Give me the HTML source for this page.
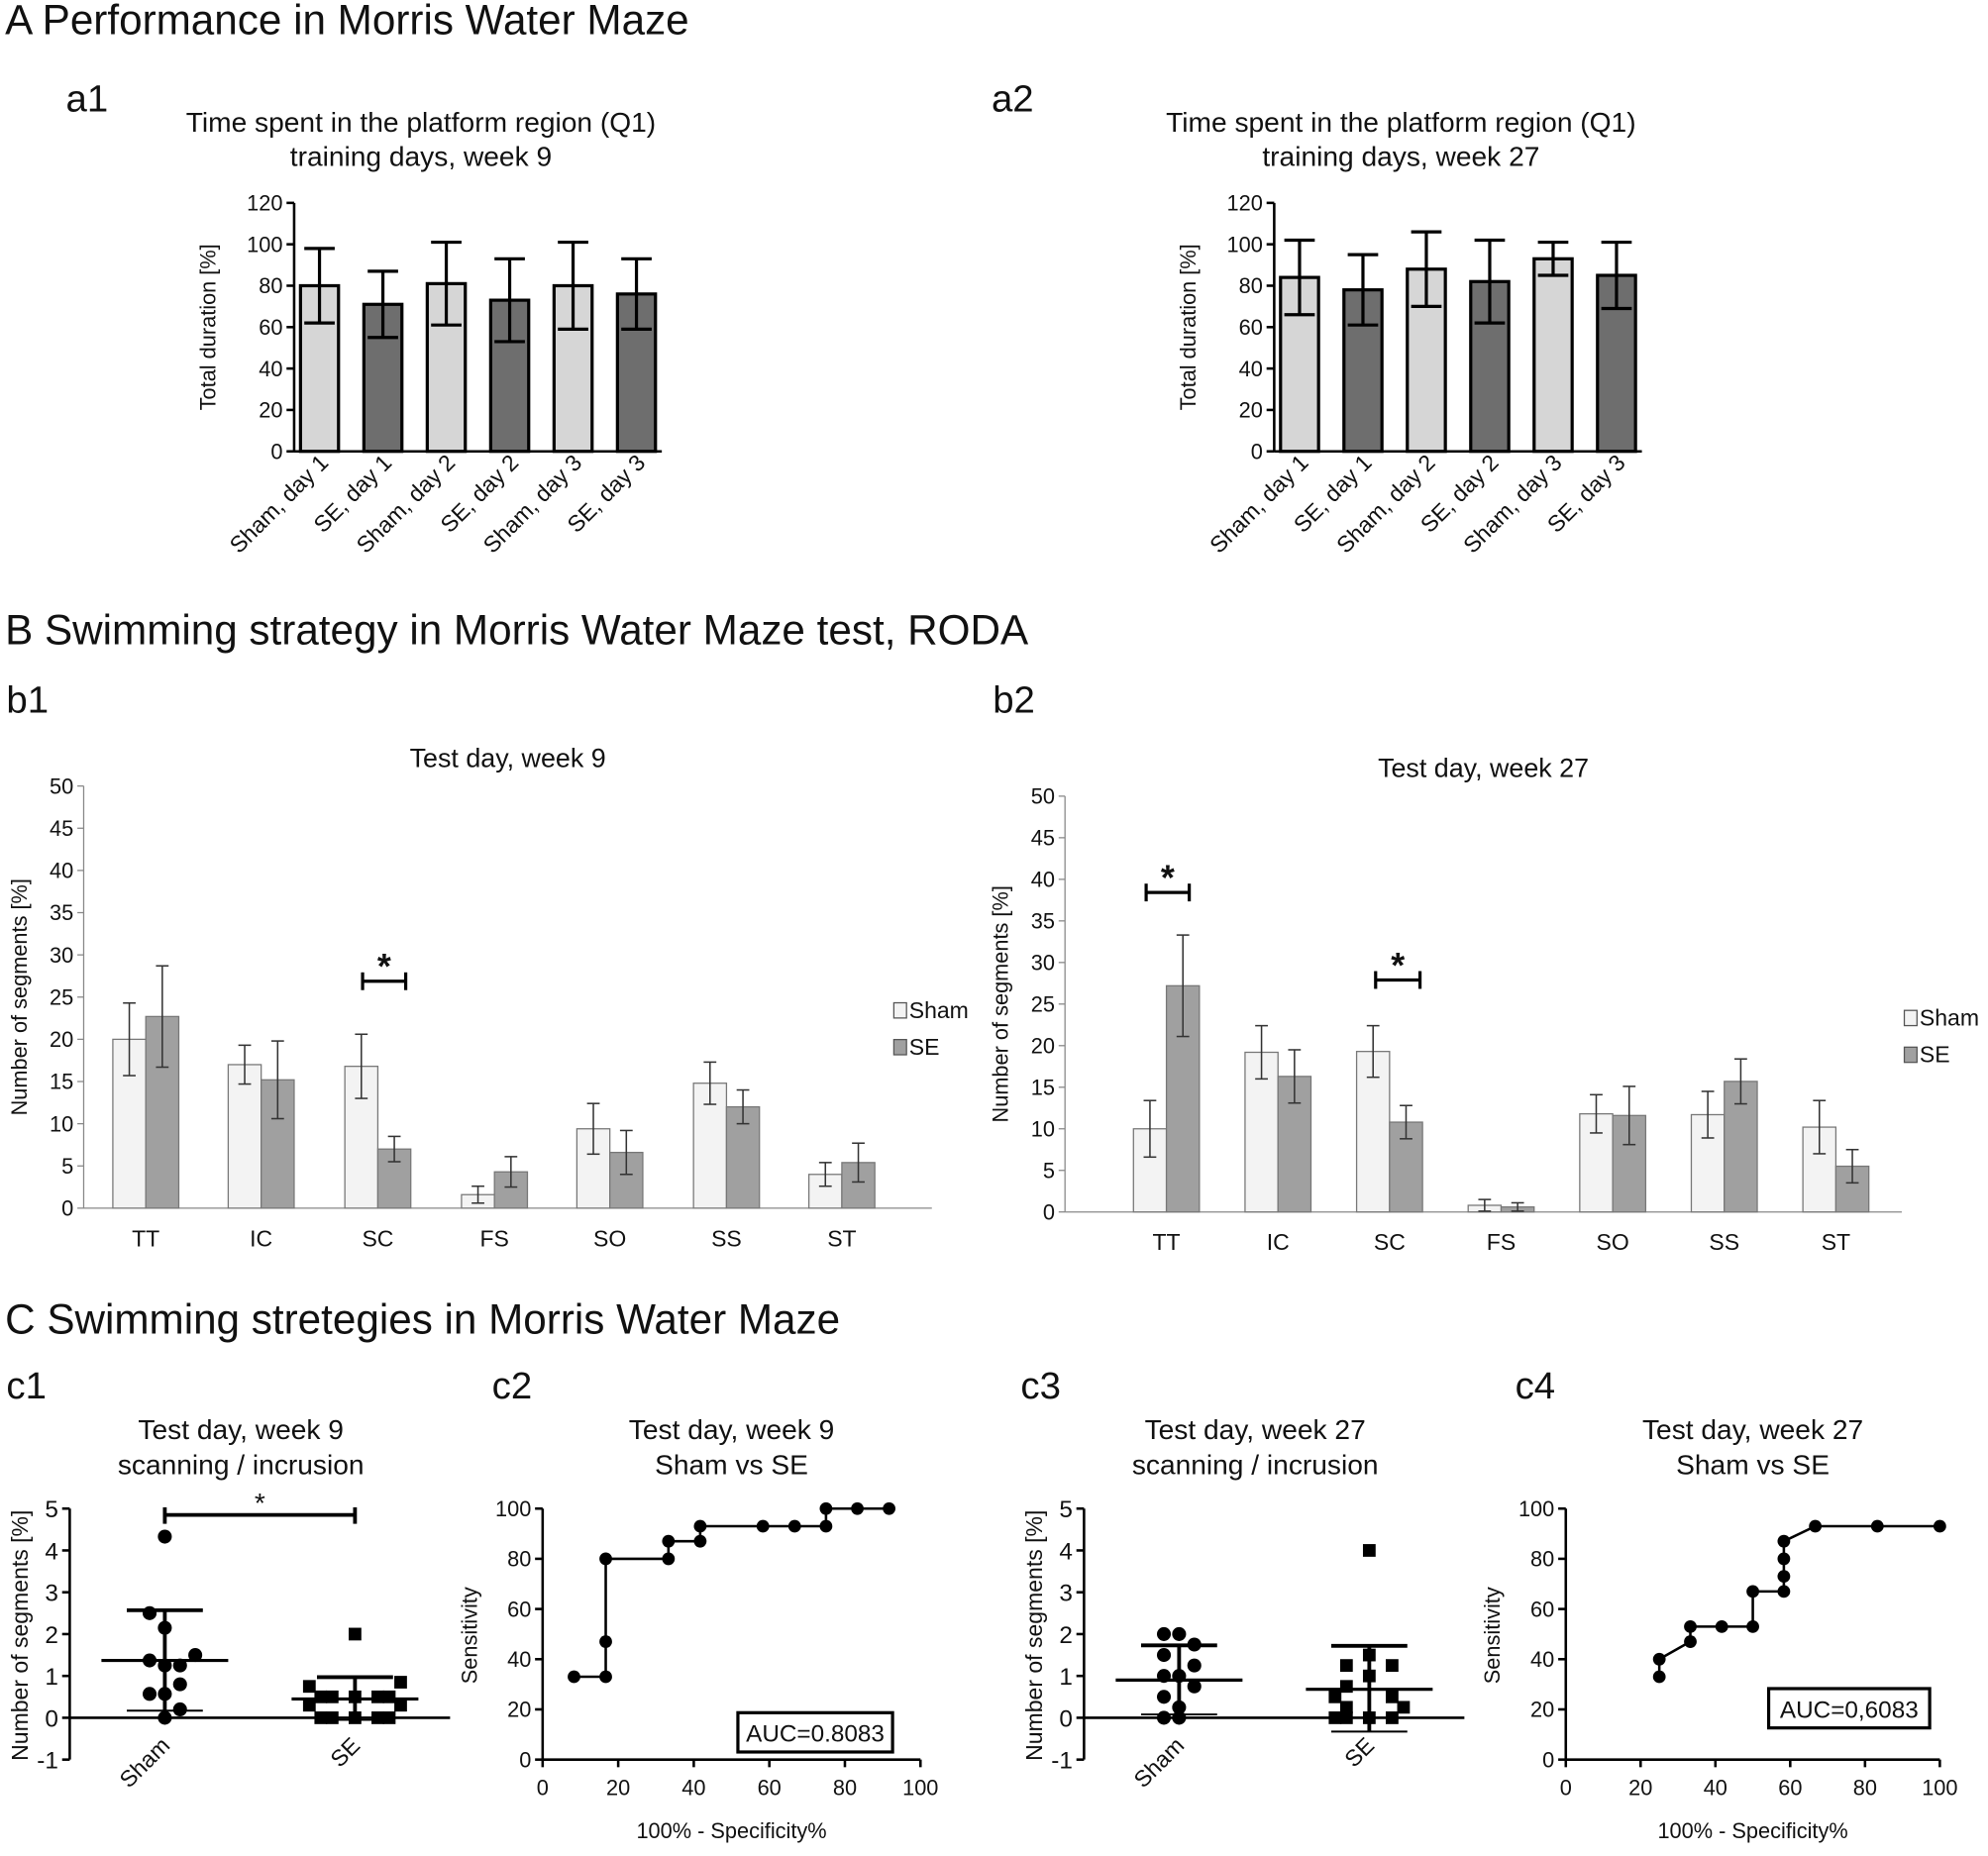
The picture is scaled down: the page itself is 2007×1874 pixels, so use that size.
<!DOCTYPE html>
<html><head><meta charset="utf-8">
<style>html,body{margin:0;padding:0;background:#fff}svg{display:block}
text{font-family:"Liberation Sans",Arial,sans-serif;fill:#111}</style></head>
<body>
<svg id="s" width="2007" height="1874" viewBox="0 0 1568 1464" xmlns="http://www.w3.org/2000/svg"></svg>
<script>
const S=document.getElementById('s');let h='';
function t(x,y,s,sz,a,rot,w){h+=`<text x="${x}" y="${y}" font-size="${sz}" text-anchor="${a||'start'}"${w?` font-weight="${w}"`:''}${rot!=null&&rot!==''?` transform="rotate(${rot} ${x} ${y})"`:''}>${s}</text>`;}
function l(x1,y1,x2,y2,w,c){h+=`<line x1="${x1}" y1="${y1}" x2="${x2}" y2="${y2}" stroke="${c||'#000'}" stroke-width="${w||1.5}"/>`;}
function r(x,y,w,hh,f,sw,sc){h+=`<rect x="${x}" y="${y}" width="${w}" height="${hh}" fill="${f}" stroke="${sc||'#000'}" stroke-width="${sw}"/>`;}
t(4,27,'A Performance in Morris Water Maze',33);
t(4,508,'B Swimming strategy in Morris Water Maze test, RODA',33);
t(4,1052,'C Swimming stretegies in Morris Water Maze',33);
function barA(ax,lx,title2,vals,lab){
  const y0=356,k=196/120;
  const Y=v=>y0-v*k;
  t(lx,88,lab,30);
  t(ax+100,104,'Time spent in the platform region (Q1)',22,'middle');
  t(ax+100,131,title2,22,'middle');
  l(ax,160,ax,y0,2);l(ax,y0,ax+290,y0,2);
  for(let v=0;v<=120;v+=20){l(ax-6,Y(v),ax,Y(v),2);t(ax-9,Y(v)+6,v,17,'end');}
  t(ax-62,258,'Total duration [%]',17,'middle',-90);
  const labs=['Sham, day 1','SE, day 1','Sham, day 2','SE, day 2','Sham, day 3','SE, day 3'];
  vals.forEach((d,i)=>{const x=ax+5+i*50;r(x,Y(d[0]),30,y0-Y(d[0]),i%2?'#6e6e6e':'#d6d6d6',2.5);
    const c=x+15;l(c,Y(d[0]+d[1]),c,Y(d[0]-d[1]),2.5);l(c-12,Y(d[0]+d[1]),c+12,Y(d[0]+d[1]),2.5);l(c-12,Y(d[0]-d[1]),c+12,Y(d[0]-d[1]),2.5);
    t(c+8,366,labs[i],18,'end',-45);});
}
barA(232,52,'training days, week 9',[[80,18],[71,16],[81,20],[73,20],[80,21],[76,17]],'a1');
barA(1005,782,'training days, week 27',[[84,18],[78,17],[88,18],[82,20],[93,8],[85,16]],'a2');
function barB(ax,lx,top,y0,x1,centers,vals,title,lab,leg,brs){
  const k=(y0-top)/50,Y=v=>y0-v*k;
  t(lx,562,lab,30);
  t((ax+x1)/2,top-15,title,21,'middle');
  l(ax,top,ax,y0,1,'#888');l(ax,y0,x1,y0,1,'#888');
  for(let v=0;v<=50;v+=5){l(ax-5,Y(v),ax,Y(v),1,'#888');t(ax-8,Y(v)+6,v,17,'end');}
  t(ax-45,(top+y0)/2,'Number of segments [%]',17,'middle',-90);
  const labs=['TT','IC','SC','FS','SO','SS','ST'];
  centers.forEach((c,i)=>{const d=vals[i];
    [[c-26,d[0],d[1],'#f3f3f3'],[c,d[2],d[3],'#a0a0a0']].forEach(b=>{r(b[0],Y(b[1]),26,y0-Y(b[1]),b[3],1,'#777');const m=b[0]+13;
      l(m,Y(b[1]+b[2]),m,Y(b[1]-b[2]),1.2,'#333');l(m-5,Y(b[1]+b[2]),m+5,Y(b[1]+b[2]),1.2,'#333');l(m-5,Y(b[1]-b[2]),m+5,Y(b[1]-b[2]),1.2,'#333');});
    t(c,y0+30,labs[i],18,'middle');});
  r(leg[0],leg[1]-12,10,12,'#f3f3f3',1,'#555');t(leg[0]+12,leg[1],'Sham',18);
  r(leg[0],leg[1]+17,10,12,'#a0a0a0',1,'#555');t(leg[0]+12,leg[1]+29,'SE',18);
  brs.forEach(b=>{l(b[0],b[2],b[1],b[2],2.5);l(b[0],b[2]-7,b[0],b[2]+7,2.5);l(b[1],b[2]-7,b[1],b[2]+7,2.5);t((b[0]+b[1])/2,b[2]-2,'*',28,'middle','','bold');});
}
barB(66,5,620,953,735,[115,206,298,390,481,573,664],[[20,4.3,22.7,6],[17,2.3,15.2,4.6],[16.8,3.8,7,1.5],[1.6,1,4.3,1.8],[9.4,3,6.6,2.6],[14.8,2.5,12,2],[4,1.4,5.4,2.3]],'Test day, week 9','b1',[705,803],[[286,320,774]]);
barB(840,783,628,956,1500,[920,1008,1096,1184,1272,1360,1448],[[10,3.4,27.2,6.1],[19.2,3.2,16.3,3.2],[19.3,3.1,10.8,2],[0.8,0.7,0.6,0.5],[11.8,2.3,11.6,3.5],[11.7,2.8,15.7,2.7],[10.2,3.2,5.5,2]],'Test day, week 27','b2',[1502,809],[[904,938,704],[1085,1120,773]]);
function scat(ax,lab,t2,sham,se,ms,ss,sig){
  const Y=v=>1355-v*33;
  t(ax-50,1103,lab,30);
  t(ax+135,1135,'Test day, week '+t2,22,'middle');t(ax+135,1163,'scanning / incrusion',22,'middle');
  l(ax,1190,ax,1388,2);l(ax,1355,ax+300,1355,2);
  for(let v=-1;v<=5;v++){l(ax-6,Y(v),ax,Y(v),2);t(ax-9,Y(v)+7,v,19,'end');}
  t(ax-33,1290,'Number of segments [%]',18,'middle',-90);
  const cs=ax+75,ce=ax+225;
  [[cs,ms,sham,0,12],[ce,ss,se,1,18]].forEach(g=>{const [c,m,pts,sq,st]=g;
    l(c-50,Y(m[0]),c+50,Y(m[0]),2.5);l(c,Y(m[1]),c,Y(m[2]),3);l(c-30,Y(m[1]),c+30,Y(m[1]),3);l(c-30,Y(m[2]),c+30,Y(m[2]),1.5);
    pts.forEach(p=>{const x=c+p[1]*st,y=Y(p[0]);h+=sq?`<rect x="${x-5}" y="${y-5}" width="10" height="10"/>`:`<circle cx="${x}" cy="${y}" r="5.5"/>`;});});
  t(cs+5,1378,'Sham',18,'end',-45);t(ce+5,1378,'SE',18,'end',-45);
  if(sig){l(cs,1195,ce,1195,3);l(cs,1189,cs,1202,3);l(ce,1189,ce,1202,3);t((cs+ce)/2,1193,'*',22,'middle');}
}
scat(55,'c1','9',[[4.33,0],[2.5,-1],[2.15,0],[1.5,2],[1.37,-1],[1.25,0],[1.25,1],[0.8,1],[0.57,-1],[0.57,0],[0.2,1],[0,0]],
 [[2,0],[0.85,2],[0.75,-2],[0.5,-1.5],[0.5,-1],[0.5,0],[0.5,1],[0.5,1.5],[0.3,-2],[0.3,2],[0,-1.5],[0,-1],[0,0],[0,1],[0,1.5]],[1.37,2.57,0.17],[0.45,0.97,-0.05],true);
scat(855,'c3','27',[[2,-1],[2,0],[1.75,1],[1.5,-1],[1.25,1],[1.0,-1],[1.0,0],[0.75,1],[0.5,-1],[0.25,0],[0,-1],[0,0]],
 [[4,0],[1.5,0],[1.25,-1],[1.25,1],[1,0],[0.75,-1],[0.5,-1.5],[0.5,1],[0.25,1.5],[0.25,-1],[0,-1.5],[0,-1],[0,0],[0,1]],[0.9,1.73,0.08],[0.68,1.72,-0.33],false);
function roc(ax,ax1,lab,t2,pts,auc,bx){
  const X=v=>ax+v*(ax1-ax)/100,Y=v=>1388-v*1.98;
  t(ax-40,1103,lab,30);
  t((ax+ax1)/2,1135,'Test day, week '+t2,22,'middle');t((ax+ax1)/2,1163,'Sham vs SE',22,'middle');
  l(ax,1190,ax,1388,2);l(ax,1388,ax1,1388,2);
  for(let v=0;v<=100;v+=20){l(ax-6,Y(v),ax,Y(v),2);t(ax-9,Y(v)+6,v,17,'end');l(X(v),1388,X(v),1394,2);t(X(v),1416,v,17,'middle');}
  t(ax-52,1290,'Sensitivity',17,'middle',-90);
  t((ax+ax1)/2,1450,'100% - Specificity%',17,'middle');
  let d='';pts.forEach((p,i)=>{d+=(i?'L':'M')+X(p[0])+' '+Y(p[1]);});
  h+=`<path d="${d}" fill="none" stroke="#000" stroke-width="2"/>`;
  pts.forEach(p=>{h+=`<circle cx="${X(p[0])}" cy="${Y(p[1])}" r="5"/>`;});
  r(bx[0],bx[1],bx[2],31,'#fff',2.5);t(bx[0]+bx[2]/2,bx[1]+23,auc,19,'middle');
}
roc(428,726,'c2','9',[[8.3,33],[16.7,33],[16.7,47],[16.7,80],[33.3,80],[33.3,87],[41.7,87],[41.7,93],[58.3,93],[66.7,93],[75,93],[75,100],[83.3,100],[91.7,100]],'AUC=0.8083',[582,1351,122]);
roc(1235,1530,'c4','27',[[25,33],[25,40],[33.3,47],[33.3,53],[41.7,53],[50,53],[50,67],[58.3,67],[58.3,73],[58.3,80],[58.3,87],[66.7,93],[83.3,93],[100,93]],'AUC=0,6083',[1395,1332,127]);
S.innerHTML=h;
</script>
</body></html>
